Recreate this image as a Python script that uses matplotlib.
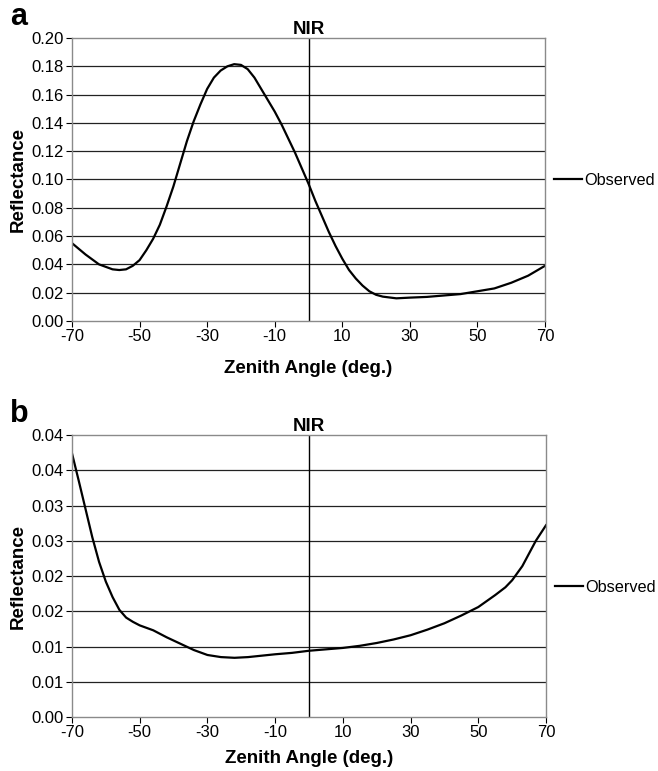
import matplotlib
matplotlib.use("Agg")
import matplotlib.pyplot as plt

plt.rcParams["font.family"] = ["Liberation Sans", "DejaVu Sans"]
plt.rcParams["axes.unicode_minus"] = False

# panel a: NIR observed reflectance vs zenith angle
angle_a = [-70, -66, -62, -58, -56, -54, -52, -50, -48, -46, -44, -42, -40, -38, -36,
           -34, -32, -30, -28, -26, -24, -22, -20, -18, -16, -14, -12, -10, -8, -6,
           -4, -2, 0, 2, 4, 6, 8, 10, 12, 14, 16, 18, 20, 22, 26, 30, 35, 40, 45,
           50, 55, 60, 65, 70]
refl_a = [0.055, 0.047, 0.040, 0.0365, 0.036, 0.0365, 0.039, 0.043, 0.050, 0.058,
          0.068, 0.081, 0.095, 0.111, 0.127, 0.141, 0.153, 0.164, 0.172, 0.177,
          0.180, 0.1815, 0.181, 0.178, 0.172, 0.164, 0.156, 0.148, 0.139, 0.129,
          0.119, 0.108, 0.097, 0.085, 0.074, 0.063, 0.053, 0.044, 0.036, 0.030,
          0.025, 0.021, 0.0185, 0.0172, 0.016, 0.0165, 0.017, 0.018, 0.019,
          0.021, 0.023, 0.027, 0.032, 0.039]

# panel b
angle_b = [-70, -68, -66, -64, -62, -60, -58, -56, -54, -52, -50, -46, -42, -38, -34,
           -30, -26, -22, -18, -14, -10, -5, 0, 5, 10, 15, 20, 25, 30, 35, 40, 45,
           50, 55, 58, 60, 63, 65, 67, 70]
refl_b = [0.0374, 0.0335, 0.0295, 0.0255, 0.0220, 0.0192, 0.0170, 0.0152, 0.0141,
          0.0135, 0.0130, 0.0123, 0.0113, 0.0104, 0.0095, 0.0088, 0.0085, 0.0084,
          0.0085, 0.0087, 0.0089, 0.0091, 0.0094, 0.0096, 0.0098, 0.0101, 0.0105,
          0.0110, 0.0116, 0.0124, 0.0133, 0.0144, 0.0156, 0.0173, 0.0184, 0.0194,
          0.0214, 0.0232, 0.0250, 0.0272]

xticks = [-70, -50, -30, -10, 10, 30, 50, 70]
yticks_a = [0.00, 0.02, 0.04, 0.06, 0.08, 0.10, 0.12, 0.14, 0.16, 0.18, 0.20]
ylabels_a = ["0.00", "0.02", "0.04", "0.06", "0.08", "0.10", "0.12", "0.14", "0.16", "0.18", "0.20"]
yticks_b = [0.0, 0.005, 0.01, 0.015, 0.02, 0.025, 0.03, 0.035, 0.04]
ylabels_b = ["0.00", "0.01", "0.01", "0.02", "0.02", "0.03", "0.03", "0.04", "0.04"]

fig = plt.figure(figsize=(6.58, 7.71), dpi=100)
ax_a = fig.add_axes([0.1094, 0.5837, 0.7189, 0.3670])
ax_b = fig.add_axes([0.1094, 0.0700, 0.7204, 0.3658])


def style_panel(ax, x, y, yticks, ylabels, letter, legend_y, xpad):
    ax.plot(x, y, color="black", lw=1.6, label="Observed")
    ax.axvline(0, color="black", lw=1.0)
    ax.set_xlim(-70, 70)
    ax.set_ylim(yticks[0], yticks[-1])
    ax.set_xticks(xticks)
    ax.set_yticks(yticks)
    ax.set_yticklabels(ylabels)
    ax.tick_params(labelsize=12, length=4, width=0.8, colors="black", pad=2)
    for yv in yticks[1:-1]:
        ax.axhline(yv, color="#222222", lw=0.9, zorder=0)
    for s in ax.spines.values():
        s.set_color("#8a8a8a")
        s.set_linewidth(1.0)
    ax.set_xlabel("Zenith Angle (deg.)", fontsize=13.5, fontweight="bold", labelpad=xpad)
    ax.set_ylabel("Reflectance", fontsize=13.5, fontweight="bold", labelpad=3)
    ax.set_title("NIR", fontsize=13.5, fontweight="bold", pad=3)
    ax.text(-0.131, 1.02, letter, transform=ax.transAxes, fontsize=22,
            fontweight="bold", va="bottom", ha="left")
    ax.legend(loc="center left", bbox_to_anchor=(1.02, legend_y), frameon=False,
              handlelength=1.7, handletextpad=0.15, fontsize=11.7, borderaxespad=0,
              borderpad=0)


style_panel(ax_a, angle_a, refl_a, yticks_a, ylabels_a, "a", 0.498, 11)
style_panel(ax_b, angle_b, refl_b, yticks_b, ylabels_b, "b", 0.46, 7)

fig.savefig("out.png", dpi=100)
